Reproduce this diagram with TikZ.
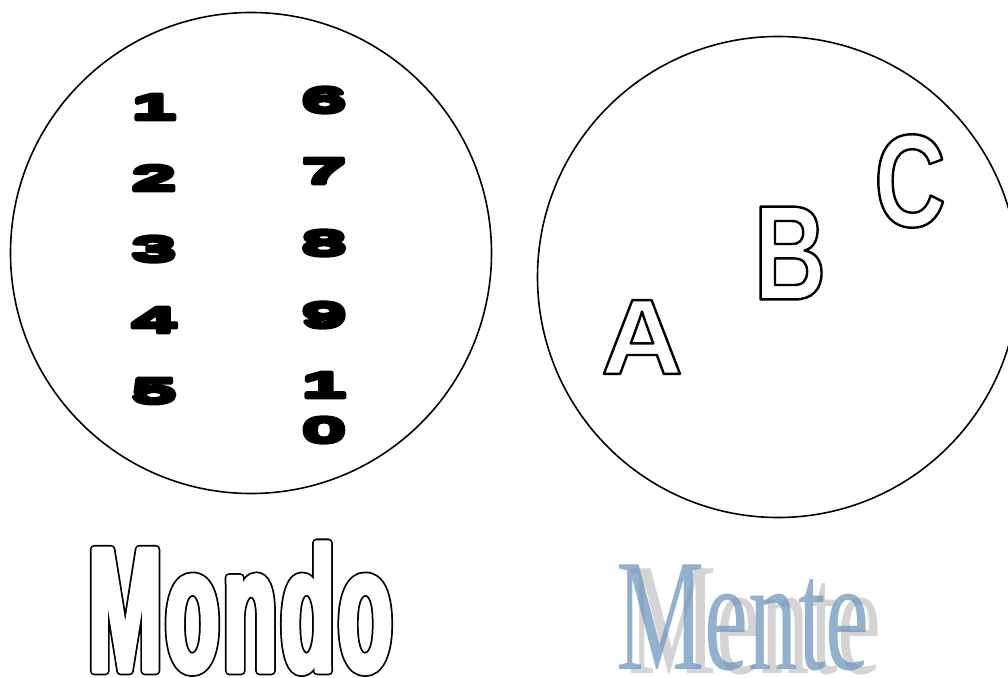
\documentclass[tikz,border=0pt]{standalone}
\usepackage{fontspec}
\newfontfamily\numfont[FakeStretch=2.3]{Liberation Sans Bold}
\newfontfamily\afont[FakeStretch=1.06]{Liberation Sans Bold}
\newfontfamily\bfont[FakeStretch=0.74]{Liberation Sans Bold}
\newfontfamily\cfont[FakeStretch=0.75]{Liberation Sans Bold}
\newfontfamily\mondofont[FakeStretch=0.5,LetterSpace=2]{Liberation Sans Bold}
\newfontfamily\menfont[FakeStretch=0.62]{Liberation Serif}
\definecolor{menteblue}{HTML}{7096BB}
\definecolor{menteshadow}{HTML}{D4D4D4}
\newcommand{\trmode}[2]{\special{pdf:literal direct #1 Tr #2 w 1 j}}
\newcommand{\trreset}{\special{pdf:literal direct 0 Tr 1 w 0 j}}
\newcommand{\outl}[1]{\trmode{1}{2.4}#1\trreset}
\newcommand{\boldoutl}[1]{\rlap{\trmode{2}{8.5}#1\trreset}\textcolor{white}{\trmode{2}{5}#1\trreset}}
\newcommand{\heavy}[1]{\trmode{2}{4.5}#1\trreset}
\tikzset{
  ring/.style={circle,draw,line width=1.6pt,minimum size=481pt,inner sep=0pt},
  digit/.style={inner sep=0pt,font=\numfont\fontsize{35}{35}\selectfont},
  hollow/.style={inner sep=0pt},
}
\begin{document}
\begin{tikzpicture}[x=1pt,y=-1pt]
\useasboundingbox (0,0) rectangle (1008,677);
\fill[white] (0,0) rectangle (1008,677);
% circles
\node[ring] (mondoring) at (251,253) {};
\node[ring] (mentering) at (778,277) {};
% digits left column
\node[digit] (d1) at (154,107) {\heavy{1}};
\node[digit] (d2) at (154,178) {\heavy{2}};
\node[digit] (d3) at (154,249) {\heavy{3}};
\node[digit] (d4) at (154,320) {\heavy{4}};
\node[digit] (d5) at (154,391) {\heavy{5}};
% digits right column
\node[digit] (d6) at (324,100) {\heavy{6}};
\node[digit] (d7) at (324,171) {\heavy{7}};
\node[digit] (d8) at (324,243) {\heavy{8}};
\node[digit] (d9) at (324,315) {\heavy{9}};
\node[digit] (d10a) at (324,385) {\heavy{1}};
\node[digit] (d10b) at (324,430) {\heavy{0}};
% hollow letters
\node[hollow] (la) at (642,337) {\afont\fontsize{107}{107}\selectfont\outl{A}};
\node[hollow] (lb) at (790,253) {\bfont\fontsize{135}{135}\selectfont\outl{B}};
\node[hollow] (lc) at (910,181) {\cfont\fontsize{132}{132}\selectfont\outl{C}};
% Mondo
\node[hollow,anchor=base west] (mondo) at (88,671) {\mondofont\fontsize{177}{177}\selectfont\boldoutl{Mondo}};
% Mente with shadow
\node[inner sep=0pt,anchor=base west,text=menteshadow] (menteshadow) at (628,673) {\menfont\fontsize{160}{160}\selectfont Mente};
\node[inner sep=0pt,anchor=base west,text=menteblue,text opacity=0.75] (mente) at (616,669) {\menfont\fontsize{160}{160}\selectfont Mente};
\end{tikzpicture}
\end{document}
